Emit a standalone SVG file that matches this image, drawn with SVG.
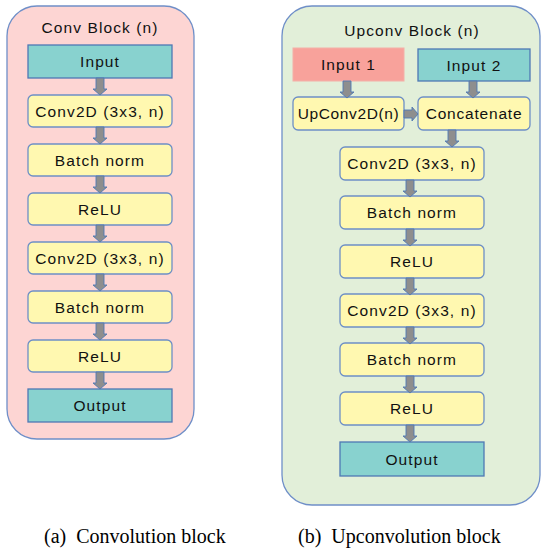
<svg xmlns="http://www.w3.org/2000/svg" width="541" height="549" viewBox="0 0 541 549">
<style>
.panelA{fill:#fdd5d3;stroke:#6f8fc8;stroke-width:1.3}
.panelB{fill:#e2efd9;stroke:#6f8fc8;stroke-width:1.3}
.io{fill:#88d2cf;stroke:#4f78b4;stroke-width:1.3}
.in1{fill:#f8a29b;stroke:#f4b0a8;stroke-width:1}
.op{fill:#fff8b0;stroke:#6d8fc6;stroke-width:1.3}
.t{font-family:"Liberation Sans",Arial,sans-serif;font-size:15.5px;letter-spacing:1.1px;fill:#111;text-anchor:middle}
.cap{font-family:"Liberation Serif","Times New Roman",serif;font-size:20px;fill:#000}
.arr{fill:#8e8e8e;stroke:#4f78b4;stroke-width:0.9}
</style>
<defs>
<path id="ad" d="M-4,0 H4 V11 H7 L0,17 L-7,11 H-4 Z"/>
<path id="ar" d="M0,-4 V4 H8 V7 L14,0 L8,-7 V-4 Z"/>
</defs>
<g id="panelA">
<rect class="panelA" x="7" y="6" width="187" height="433" rx="30"/>
<text class="t" x="100" y="33">Conv Block (n)</text>
</g>
<g id="panelB">
<rect class="panelB" x="282" y="6" width="258" height="499" rx="30"/>
<text class="t" x="412" y="36">Upconv Block (n)</text>
</g>
<g id="a-input"><rect class="io" x="28" y="45" width="144" height="33"/><text class="t" x="100" y="67">Input</text></g>
<g id="a-conv1"><rect class="op" x="28" y="95" width="144" height="32" rx="5"/><text class="t" x="100" y="116.5">Conv2D (3x3, n)</text></g>
<g id="a-bn1"><rect class="op" x="28" y="144" width="144" height="32" rx="5"/><text class="t" x="100" y="165.5">Batch norm</text></g>
<g id="a-relu1"><rect class="op" x="28" y="193" width="144" height="32" rx="5"/><text class="t" x="100" y="214.5">ReLU</text></g>
<g id="a-conv2"><rect class="op" x="28" y="242" width="144" height="32" rx="5"/><text class="t" x="100" y="263.5">Conv2D (3x3, n)</text></g>
<g id="a-bn2"><rect class="op" x="28" y="291" width="144" height="32" rx="5"/><text class="t" x="100" y="312.5">Batch norm</text></g>
<g id="a-relu2"><rect class="op" x="28" y="340" width="144" height="32" rx="5"/><text class="t" x="100" y="361.5">ReLU</text></g>
<g id="a-output"><rect class="io" x="28" y="389" width="144" height="33"/><text class="t" x="100" y="411">Output</text></g>

<g id="b-input1"><rect class="in1" x="293" y="48" width="111" height="33"/><text class="t" x="348.5" y="70">Input 1</text></g>
<g id="b-input2"><rect class="io" x="418" y="49" width="112" height="32"/><text class="t" x="474" y="70.5">Input 2</text></g>
<g id="b-upconv"><rect class="op" x="293" y="97" width="111" height="33" rx="5"/><text class="t" x="348.5" y="119" style="letter-spacing:0.6px">UpConv2D(n)</text></g>
<g id="b-concat"><rect class="op" x="418" y="97" width="112" height="33" rx="5"/><text class="t" x="474" y="119" style="letter-spacing:0.8px">Concatenate</text></g>
<g id="b-conv1"><rect class="op" x="340" y="147" width="144" height="33" rx="5"/><text class="t" x="412" y="169">Conv2D (3x3, n)</text></g>
<g id="b-bn1"><rect class="op" x="340" y="196" width="144" height="33" rx="5"/><text class="t" x="412" y="218">Batch norm</text></g>
<g id="b-relu1"><rect class="op" x="340" y="245" width="144" height="33" rx="5"/><text class="t" x="412" y="267">ReLU</text></g>
<g id="b-conv2"><rect class="op" x="340" y="294" width="144" height="33" rx="5"/><text class="t" x="412" y="316">Conv2D (3x3, n)</text></g>
<g id="b-bn2"><rect class="op" x="340" y="343" width="144" height="33" rx="5"/><text class="t" x="412" y="365">Batch norm</text></g>
<g id="b-relu2"><rect class="op" x="340" y="392" width="144" height="33" rx="5"/><text class="t" x="412" y="414">ReLU</text></g>
<g id="b-output"><rect class="io" x="340" y="442" width="144" height="34"/><text class="t" x="412" y="465">Output</text></g>

<g id="connectors" class="arr">
<use href="#ad" x="100" y="78"/>
<use href="#ad" x="100" y="127"/>
<use href="#ad" x="100" y="176"/>
<use href="#ad" x="100" y="225"/>
<use href="#ad" x="100" y="274"/>
<use href="#ad" x="100" y="323"/>
<use href="#ad" x="100" y="372"/>
<use href="#ad" x="347" y="81"/>
<use href="#ad" x="473" y="81"/>
<use href="#ar" x="404" y="114"/>
<use href="#ad" x="452" y="130"/>
<use href="#ad" x="410" y="180"/>
<use href="#ad" x="410" y="229"/>
<use href="#ad" x="410" y="278"/>
<use href="#ad" x="410" y="327"/>
<use href="#ad" x="410" y="376"/>
<use href="#ad" x="410" y="425"/>
</g>
<g id="captions">
<text class="cap" x="44" y="543" xml:space="preserve">(a)  Convolution block</text>
<text class="cap" x="298" y="543" xml:space="preserve">(b)  Upconvolution block</text>
</g>
</svg>
